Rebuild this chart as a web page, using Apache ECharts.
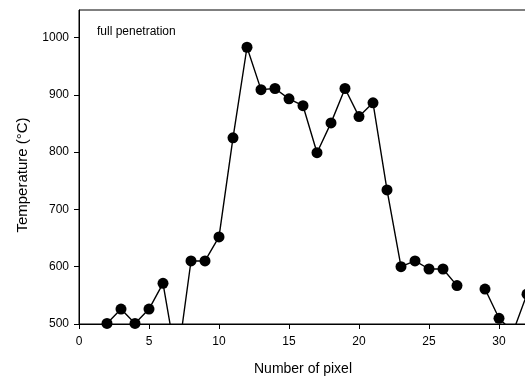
<!DOCTYPE html>
<html>
<head>
<meta charset="utf-8">
<script src="https://cdn.jsdelivr.net/npm/echarts@6/dist/echarts.min.js"></script>
<style>html,body{margin:0;padding:0;background:#fff}#c{width:525px;height:378px}</style>
</head>
<body>
<div id="c"></div>
<script>
const pixels = [2,3,4,5,6,7,8,9,10,11,12,13,14,15,16,17,18,19,20,21,22,23,24,25,26,27,28,29,30,31,32];
const temperature = [501,526,501,526,571,430,610,610,652,825,983,909,911,893,881,799,851,911,862,886,734,600,610,596,596,567,null,561,510,486,552];
const xTicks = [0,5,10,15,20,25,30];
const yTicks = [500,600,700,800,900,1000];
const annotation = 'full penetration';

const chart = echarts.init(document.getElementById('c'), null, {renderer:'canvas'});
const font = 'Liberation Sans, Arial, sans-serif';
chart.setOption({
  animation: false,
  grid: {left: 79, right: -2, top: 10, bottom: 54, show: true, borderColor: '#000', borderWidth: 1,
    containLabel: false, outerBoundsMode: 'none'},
  xAxis: {
    type: 'value', min: 0, max: 32, interval: 5,
    name: 'Number of pixel', nameLocation: 'middle', nameGap: 38,
    nameTextStyle: {fontFamily: font, fontSize: 14, color: '#000'},
    axisLine: {show: true, lineStyle: {color: '#000', width: 1}},
    axisTick: {show: true, inside: false, length: 5, lineStyle: {color: '#000'}},
    axisLabel: {fontFamily: font, fontSize: 12, color: '#000', margin: 12, showMaxLabel: false,
      formatter: v => xTicks.includes(v) ? String(v) : ''},
    splitLine: {show: false}
  },
  yAxis: {
    type: 'value', min: 500, max: 1048, interval: 100,
    name: 'Temperature (°C)', nameLocation: 'middle', nameGap: 49,
    nameTextStyle: {fontFamily: font, fontSize: 15, color: '#000', padding: [0, 0, 0, -16]},
    axisLine: {show: true, lineStyle: {color: '#000', width: 1}},
    axisTick: {show: true, inside: false, length: 5, lineStyle: {color: '#000'}},
    axisLabel: {fontFamily: font, fontSize: 12, color: '#000', margin: 10, showMaxLabel: false,
      formatter: v => yTicks.includes(v) ? String(v) : ''},
    splitLine: {show: false}
  },
  graphic: [{
    type: 'text', left: 97, top: 26,
    style: {text: annotation, fontFamily: font, fontSize: 12, fill: '#000'}
  }],
  series: [{
    type: 'line',
    data: pixels.map((x, i) => [x, temperature[i]]),
    connectNulls: false,
    clip: true,
    symbol: 'circle', symbolSize: 11, showAllSymbol: true,
    itemStyle: {color: '#000'},
    lineStyle: {color: '#000', width: 1.4}
  }]
});
</script>
</body>
</html>
